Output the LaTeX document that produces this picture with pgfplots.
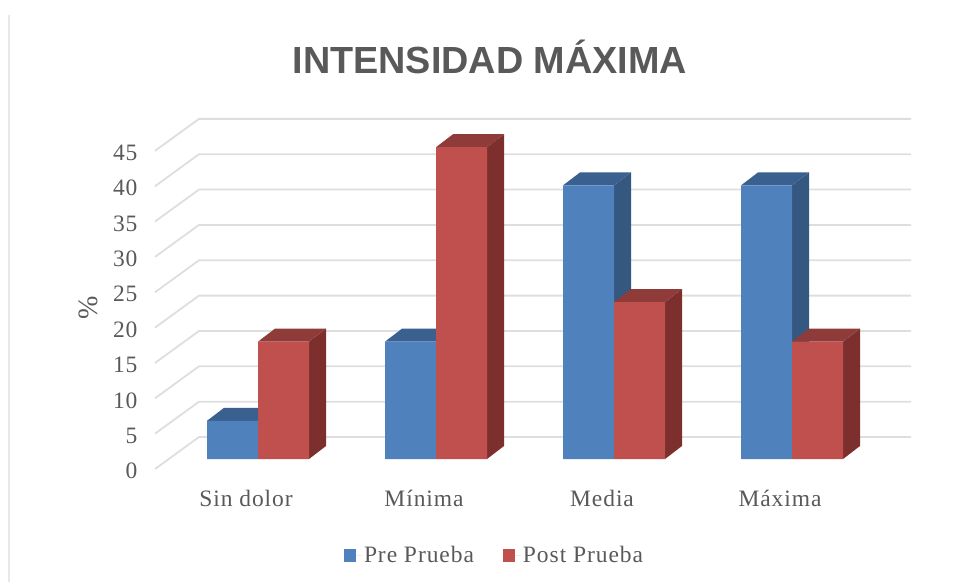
\documentclass[border=0pt]{standalone}
\usepackage{fontspec}
\usepackage{pgfplots}
\usepackage{pgfplotstable}
\pgfplotsset{compat=1.18}
\setmainfont{Liberation Serif}
\newfontfamily\labfont[LetterSpace=4]{Liberation Serif}
\newfontfamily\titlefont{Liberation Sans}
\definecolor{txt}{HTML}{595959}
\definecolor{gridc}{HTML}{DEDEDE}
\definecolor{bluef}{HTML}{4F81BD}
\definecolor{blued}{HTML}{34587F}
\definecolor{bluet}{HTML}{3A6090}
\definecolor{redf}{HTML}{C0504D}
\definecolor{redd}{HTML}{7C2F2D}
\definecolor{redt}{HTML}{8E3B39}
\pgfplotstableread{
cat pre post
0 5.4 16.6
1 16.6 44.1
2 38.7 22.2
3 38.7 16.6
}\barsdata
\pgfplotstableread{
x d
-0.5787 -1.414
-0.3315 3.11
3.6685 3.11
}\gridshape
% unit shapes of the side and top faces of a bar
\pgfplotstableread{
p q r
0 0 0
0 1 0
0 1 1
0 0 1
}\sideshape
\pgfplotstableread{
p q r
-1 0 1
0 0 1
0 1 1
-1 1 1
}\topshape
\newcommand{\faces}[4]{%
\addplot[fill=#3,draw=none,forget plot] table[x expr={#1+\thisrow{q}*0.0955},y expr={\thisrow{r}*#2+\thisrow{q}*1.84}] {\sideshape} -- cycle;
\addplot[fill=#4,draw=none,forget plot] table[x expr={#1+\thisrow{p}*0.2865+\thisrow{q}*0.0955},y expr={\thisrow{r}*#2+\thisrow{q}*1.84}] {\topshape} -- cycle;
}
\begin{document}
\begin{tikzpicture}
\path[use as bounding box] (-155pt,-123pt) rectangle (800pt,459pt);
\draw[color=black!9,line width=2pt] (-146pt,-123pt) -- (-146pt,444pt);
\begin{axis}[
 at={(0,0)},anchor=south west,
 scale only axis,width=756pt,height=340pt,
 xmin=-0.5787,xmax=3.6685,ymin=0,ymax=48.09,
 clip=false,
 axis line style={draw=none},
 tick style={draw=none},
 xtick={0,1,2,3},
 xticklabels={Sin dolor,Mínima,Media,Máxima},
 ytick={0,5,...,45},
 /pgf/number format/assume math mode=true,
 tick label style={font=\fontsize{23.5}{25}\labfont,text=txt},
 y tick label style={yshift=-12pt,xshift=-14pt},
 x tick label style={xshift=-12pt,yshift=-28pt},
 title={INTENSIDAD MÁXIMA},
 title style={at={(0.443,1.166)},anchor=center,font=\fontsize{37.8}{42}\titlefont\bfseries,text=txt},
 ylabel={\%},
 every axis y label/.style={at={(rel axis cs:-0.0887,0.444)},rotate=90,anchor=center,font=\fontsize{28}{30}\selectfont,text=txt},
 legend columns=2,
 legend style={draw=none,fill=none,at={(0.25,-0.284)},anchor=west,inner sep=0pt,outer sep=0pt,
   font=\fontsize{23.5}{25}\labfont,text=txt,
   /tikz/every even column/.style={column sep=27pt}},
 legend image code/.code={\fill[#1,draw=none] (0pt,-6pt) rectangle (12pt,6.5pt);\path (0pt,0pt) -- (18pt,0pt);},
]
\pgfplotsinvokeforeach{0,5,...,45}{
 \addplot[gridc,line width=1.8pt,forget plot] table[x=x,y expr={\thisrow{d}+#1}] {\gridshape};
}
\faces{0}{5.4}{blued}{bluet}
\faces{1}{16.6}{blued}{bluet}
\faces{2}{38.7}{blued}{bluet}
\faces{3}{38.7}{blued}{bluet}
\faces{0.2865}{16.6}{redd}{redt}
\faces{1.2865}{44.1}{redd}{redt}
\faces{2.2865}{22.2}{redd}{redt}
\faces{3.2865}{16.6}{redd}{redt}
\addplot[ybar,bar width=51pt,bar shift=-25.5pt,fill=bluef,draw=none] table[x=cat,y=pre] {\barsdata};
\addlegendentry{Pre Prueba}
\addplot[ybar,bar width=51pt,bar shift=25.5pt,fill=redf,draw=none] table[x=cat,y=post] {\barsdata};
\addlegendentry{Post Prueba}
\end{axis}
\end{tikzpicture}
\end{document}
